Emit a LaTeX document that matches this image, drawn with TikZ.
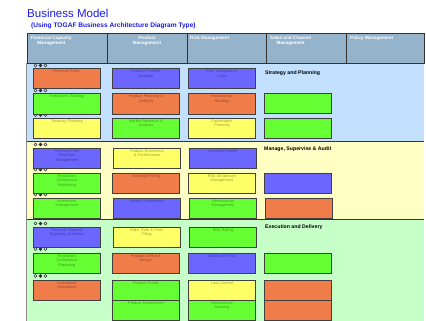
\documentclass[tikz,border=0pt]{standalone}
\usepackage{fontspec}
\setmainfont{Liberation Sans}
\definecolor{hdr}{HTML}{95B3CB}
\definecolor{bandA}{HTML}{C4E0FF}
\definecolor{bandB}{HTML}{FFFFC4}
\definecolor{bandC}{HTML}{C6FFC8}
\definecolor{cOr}{HTML}{F07C4A}
\definecolor{cBl}{HTML}{6B66FF}
\definecolor{cGr}{HTML}{66FF33}
\definecolor{cYe}{HTML}{FFFF66}
\definecolor{ttl}{HTML}{1C1CE0}
\tikzset{
  boxcell/.style={draw=black!75, line width=0.9pt, anchor=north west, inner sep=0pt,
    minimum width=67pt, minimum height=20pt},
  boxlbl/.style={anchor=north, inner sep=0pt, text width=64pt, align=center,
    font=\fontsize{3.9}{4.7}\selectfont, text=black, text opacity=0.38},
  hcell/.style={draw=black!80, line width=0.8pt, fill=hdr, anchor=north west, inner sep=0pt,
    minimum height=30pt},
  hlbl/.style={anchor=north west, inner sep=0pt, align=center, text=white,
    font=\fontsize{4.6}{5.4}\selectfont\bfseries},
  bandlbl/.style={anchor=north west, inner sep=0pt, font=\fontsize{5.2}{6}\selectfont\bfseries},
  dotc/.style={circle, draw=black!80, line width=0.5pt, inner sep=0pt, minimum size=3pt},
}
\newcommand\bx[5]{%
  \node[boxcell, fill=#4] (#1) at (#2,#3) {};
  \node[boxlbl] (#1t) at ([yshift=-1.2pt]#1.north) {#5};}
\newcommand\trio[2]{%
  \node[dotc, fill=white] (#1a) at (35.5,#2) {};
  \node[dotc, fill=black!85] (#1b) at (40.5,#2) {};
  \node[dotc, fill=white] (#1c) at (45.5,#2) {};}
\begin{document}
\begin{tikzpicture}[x=1pt,y=-1pt]
\useasboundingbox (0,0) rectangle (426,321);
\fill[white] (0,0) rectangle (426,321);
% title
\node[anchor=base west, inner sep=0pt, text=ttl, font=\fontsize{11.5}{13}\selectfont] (title) at (27,17.5) {Business Model};
\node[anchor=base west, inner sep=0pt, text=ttl, font=\fontsize{6.6}{8}\selectfont\bfseries] (sub) at (31,27.5) {(Using TOGAF Business Architecture Diagram Type)};
% bands
\fill[bandA] (27,63) rectangle (424,141);
\fill[bandB] (27,141) rectangle (424,219);
\fill[bandC] (27,219) rectangle (424,322);
\draw[black!80, line width=0.8pt] (27,141) -- (424,141);
\draw[black!80, line width=0.8pt] (27,219) -- (424,219);
\draw[black!45, line width=1pt] (26.5,63) -- (26.5,322);
% header
\node[hcell, minimum width=80pt] (h1) at (27,33) {};
\node[hcell, minimum width=80pt] (h2) at (107,33) {};
\node[hcell, minimum width=79pt] (h3) at (187,33) {};
\node[hcell, minimum width=80pt] (h4) at (266,33) {};
\node[hcell, minimum width=78pt] (h5) at (346,33) {};
\node[hlbl] (h1t) at (31,35.5) {Financial Capacity\\Management};
\node[hlbl, anchor=north] (h2t) at (147,35.5) {Product\\Management};
\node[hlbl] (h3t) at (190,35.5) {Risk Management};
\node[hlbl] (h4t) at (270,35.5) {Sales and Channel\\Management};
\node[hlbl] (h5t) at (350,35.5) {Policy Management};
% band labels
\node[bandlbl] (lA) at (265,70.5) {Strategy and Planning};
\node[bandlbl] (lB) at (264,146.5) {Manage, Supervise \& Audit};
\node[bandlbl] (lC) at (265,224.5) {Execution and Delivery};
% dots
\trio{dA1}{65.5}\trio{dA2}{90.5}\trio{dA3}{115}
\trio{dB1}{144.5}\trio{dB2}{169.5}\trio{dB3}{194.5}
\trio{dC1}{223.5}\trio{dC2}{249}\trio{dC3}{276}
% band A boxes
\bx{a11}{33}{68.5}{cOr}{Financial Policy}
\bx{a12}{112}{68.5}{cBl}{Product Portfolio\\Strategy}
\bx{a13}{188}{68.5}{cBl}{Risk, Compliance,\\Legal}
\bx{a21}{33}{93.5}{cGr}{Investment Strategy}
\bx{a22}{112}{93.5}{cOr}{Product Planning \&\\Analysis}
\bx{a23}{188}{93.5}{cOr}{Reinsurance\\Strategy}
\bx{a24}{264}{93}{cGr}{}
\bx{a31}{33}{118}{cYe}{Treasury Planning}
\bx{a32}{112}{118}{cGr}{Market Research \&\\Analysis}
\bx{a33}{188}{118}{cYe}{Catastrophe\\Planning}
\bx{a34}{264}{118}{cGr}{}
% band B boxes
\bx{b11}{33}{148}{cBl}{Treasury Risk\\Reserves\\Management}
\bx{b12}{113}{148}{cYe}{Product Economics\\\& Performance}
\bx{b13}{189}{148}{cBl}{Actuarial Control}
\bx{b21}{33}{173}{cGr}{Regulatory\\Compliance\\Monitoring}
\bx{b22}{112}{173}{cOr}{Actuarial Pricing}
\bx{b23}{188}{173}{cYe}{Risk \&Exposure\\Management}
\bx{b24}{264}{173}{cBl}{}
\bx{b31}{33}{198}{cGr}{Investment\\Management}
\bx{b32}{113}{198}{cBl}{Product Information}
\bx{b33}{189}{198}{cGr}{Reinsurance\\Management}
\bx{b34}{265}{198}{cOr}{}
% band C boxes
\bx{c11}{33}{227}{cBl}{Financial Capacity\\Reporting \& Metrics}
\bx{c12}{113}{227}{cYe}{Rate, Rule \& Form\\Filing}
\bx{c13}{189}{227}{cGr}{Risk Rating}
\bx{c21}{33}{253}{cGr}{Regulatory\\Compliance\\Reporting}
\bx{c22}{112}{253}{cOr}{Product Define \&\\Design}
\bx{c23}{188}{253}{cBl}{Underwrite Risk}
\bx{c24}{264}{253}{cGr}{}
\bx{c31}{33}{280}{cOr}{Investment\\Operations}
\bx{c32}{112}{280}{cGr}{Product Profile}
\bx{c33}{188}{280}{cYe}{Loss Control}
\bx{c34}{264}{280}{cOr}{}
\bx{c42}{112}{300}{cGr}{Product Deployment}
\bx{c43}{188}{300}{cGr}{Reinsurance\\Sourcing}
\bx{c44}{264}{300}{cOr}{}
\end{tikzpicture}
\end{document}
